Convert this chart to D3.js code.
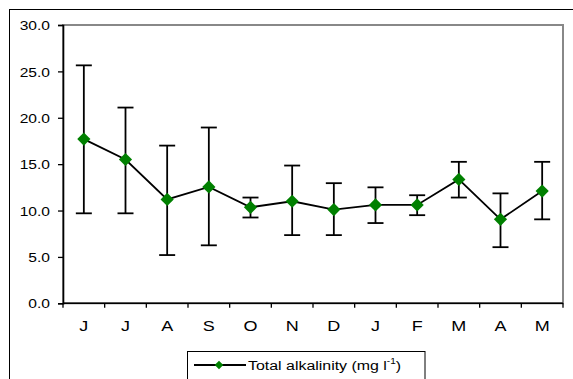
<!DOCTYPE html>
<html>
<head>
<meta charset="utf-8">
<script src="https://cdn.jsdelivr.net/npm/d3@7"></script>
<style>
  html, body { margin: 0; padding: 0; background: #fff; }
  svg { display: block; font-family: "Liberation Sans", Arial, sans-serif; }
</style>
</head>
<body>
<svg id="chart" width="573" height="379"></svg>
<script>
// ---- data ----
const months = ["J","J","A","S","O","N","D","J","F","M","A","M"];
const meanValues = [17.7, 15.5, 11.2, 12.55, 10.35, 11.0, 10.1, 10.6, 10.6, 13.35, 9.05, 12.1];
const upperValues = [25.65, 21.1, 17.0, 18.95, 11.4, 14.85, 12.95, 12.5, 11.65, 15.25, 11.85, 15.25];
const lowerValues = [9.7, 9.7, 5.2, 6.25, 9.25, 7.35, 7.35, 8.65, 9.5, 11.4, 6.05, 9.05];
const yTicks = [0, 5, 10, 15, 20, 25, 30];
const seriesName = "Total alkalinity (mg l";

const svg = d3.select("#chart");
const SX = 1.2; // horizontal stretch of the reference's text

const plot = { left: 63, right: 563, top: 25, bottom: 303.3 };
const idx = d3.range(months.length);
const x = d3.scaleBand().domain(idx).range([plot.left, plot.right]).padding(0);
const y = d3.scaleLinear().domain([0, 30]).range([plot.bottom, plot.top]);
const cx = i => x(i) + x.bandwidth() / 2;

// outer chart border (extends beyond the picture on right/bottom)
svg.append("rect").attr("x", 9.5).attr("y", 9.5).attr("width", 620).attr("height", 420)
  .attr("fill", "none").attr("stroke", "#000").attr("stroke-width", 1);

// plot area border (gray)
svg.append("rect").attr("x", plot.left).attr("y", plot.top)
  .attr("width", plot.right - plot.left).attr("height", plot.bottom - plot.top)
  .attr("fill", "none").attr("stroke", "#888").attr("stroke-width", 2);

// y axis
const yAxis = d3.axisLeft(y).tickValues(yTicks).tickSize(5).tickFormat(d3.format(".1f"));
const gy = svg.append("g").attr("transform", `translate(${plot.left},0)`).call(yAxis);
gy.select(".domain").attr("stroke", "#000").attr("stroke-width", 1.6);
gy.selectAll(".tick line").attr("stroke", "#000").attr("stroke-width", 1.3);
gy.selectAll(".tick text").remove();
gy.selectAll(".tick").append("text")
  .attr("transform", `translate(-13,0) scale(${SX},1)`)
  .attr("text-anchor", "end").attr("dy", "0.36em")
  .attr("font-size", 13).attr("fill", "#000")
  .text(d => d3.format(".1f")(d));

// x axis: ticks at category boundaries
const gx = svg.append("g").attr("transform", `translate(0,${plot.bottom})`);
gx.append("line").attr("x1", plot.left).attr("x2", plot.right)
  .attr("stroke", "#000").attr("stroke-width", 1.6);
const bounds = idx.map(i => x(i)).concat([plot.right]);
gx.selectAll("line.tk").data(bounds).join("line").attr("class", "tk")
  .attr("x1", d => d).attr("x2", d => d).attr("y1", 0).attr("y2", 4.5)
  .attr("stroke", "#000").attr("stroke-width", 1.3);
gx.selectAll("text").data(idx).join("text")
  .attr("transform", i => `translate(${cx(i)},27.4) scale(${SX},1)`)
  .attr("text-anchor", "middle").attr("font-size", 15).attr("fill", "#000")
  .text(i => months[i]);

// error bars
const capHalf = 8;
const eb = svg.append("g").attr("stroke", "#000").attr("stroke-width", 1.8);
idx.forEach(i => {
  eb.append("line").attr("x1", cx(i)).attr("x2", cx(i))
    .attr("y1", y(upperValues[i])).attr("y2", y(lowerValues[i]));
  eb.append("line").attr("x1", cx(i) - capHalf).attr("x2", cx(i) + capHalf)
    .attr("y1", y(upperValues[i])).attr("y2", y(upperValues[i]));
  eb.append("line").attr("x1", cx(i) - capHalf).attr("x2", cx(i) + capHalf)
    .attr("y1", y(lowerValues[i])).attr("y2", y(lowerValues[i]));
});

// series line
const line = d3.line().x(i => cx(i)).y(i => y(meanValues[i]));
svg.append("path").datum(idx).attr("d", line)
  .attr("fill", "none").attr("stroke", "#000").attr("stroke-width", 1.8);

// diamond markers
const diamond = r => `M0,${-r}L${r},0L0,${r}L${-r},0Z`;
svg.append("g").selectAll("path").data(idx).join("path")
  .attr("transform", i => `translate(${cx(i)},${y(meanValues[i])})`)
  .attr("d", diamond(6.6)).attr("fill", "#008000");

// legend
const lg = svg.append("g");
lg.append("rect").attr("x", 187.5).attr("y", 351.5).attr("width", 237.5).attr("height", 60)
  .attr("fill", "#fff").attr("stroke", "#000").attr("stroke-width", 1);
lg.append("line").attr("x1", 194).attr("x2", 246).attr("y1", 365).attr("y2", 365)
  .attr("stroke", "#000").attr("stroke-width", 1.8);
lg.append("path").attr("transform", "translate(219,365)").attr("d", diamond(4.3)).attr("fill", "#008000");
const lt = lg.append("text").attr("transform", `translate(248,369.8) scale(${SX - 0.02},1)`)
  .attr("font-size", 13.5).attr("fill", "#000");
lt.append("tspan").text(seriesName);
lt.append("tspan").attr("font-size", 8.5).attr("dy", -5.5).text("-1");
lt.append("tspan").attr("dy", 5.5).text(")");
</script>
</body>
</html>
